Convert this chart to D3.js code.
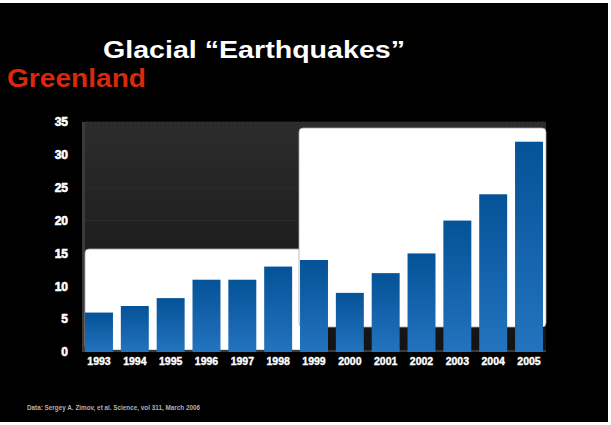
<!DOCTYPE html>
<html>
<head>
<meta charset="utf-8">
<script src="https://cdn.jsdelivr.net/npm/d3@7"></script>
<style>
  body { margin: 0; background: #fff; }
  svg { display: block; font-family: "Liberation Sans", Arial, sans-serif; }
</style>
</head>
<body>
<svg width="611" height="425"></svg>
<script>
const svg = d3.select('svg');

// data
const years = ['1993','1994','1995','1996','1997','1998','1999','2000','2001','2002','2003','2004','2005'];
const counts = [6, 7, 8.2, 11, 11, 13, 14, 9, 12, 15, 20, 24, 32];
const yTicks = [0, 5, 10, 15, 20, 25, 30, 35];

const plot = {left: 82, right: 546, top: 122, bottom: 352};

const x = d3.scaleBand().domain(years).range([85, 543]).paddingInner(0.22).paddingOuter(0);
const y = d3.scaleLinear().domain([0, 35]).range([plot.bottom, plot.top]);

// slide background
svg.append('rect').attr('x', 0).attr('y', 3).attr('width', 608).attr('height', 419).attr('fill', '#000');

const defs = svg.append('defs');
const bg = defs.append('linearGradient').attr('id', 'bg').attr('x1', 0).attr('y1', 0).attr('x2', 0).attr('y2', 1);
bg.append('stop').attr('offset', '0%').attr('stop-color', '#2c2c2c');
bg.append('stop').attr('offset', '100%').attr('stop-color', '#131313');
const barGrad = defs.append('linearGradient').attr('id', 'bar').attr('x1', 0).attr('y1', 0).attr('x2', 0).attr('y2', 1);
barGrad.append('stop').attr('offset', '0%').attr('stop-color', '#045297');
barGrad.append('stop').attr('offset', '100%').attr('stop-color', '#2373be');

// titles
svg.append('text').attr('x', 103).attr('y', 58)
  .attr('font-size', 24).attr('font-weight', 'bold').attr('fill', '#fff')
  .attr('textLength', 302).attr('lengthAdjust', 'spacingAndGlyphs')
  .text('Glacial \u201CEarthquakes\u201D');
svg.append('text').attr('x', 7).attr('y', 87)
  .attr('font-size', 25).attr('font-weight', 'bold').attr('fill', '#d8290c')
  .attr('textLength', 139).attr('lengthAdjust', 'spacingAndGlyphs')
  .text('Greenland');

// plot area
svg.append('rect').attr('x', plot.left).attr('y', plot.top)
  .attr('width', plot.right - plot.left).attr('height', plot.bottom - plot.top)
  .attr('fill', 'url(#bg)');
svg.append('rect').attr('x', plot.left).attr('y', plot.top)
  .attr('width', 3).attr('height', plot.bottom - plot.top).attr('fill', '#3a3a3a');

// faint gridlines
svg.append('g').selectAll('line').data(yTicks.filter(d => d > 0)).join('line')
  .attr('x1', plot.left + 3).attr('x2', plot.right)
  .attr('y1', d => y(d)).attr('y2', d => y(d))
  .attr('stroke', '#2f2f2f').attr('stroke-width', 1).attr('stroke-dasharray', '3,1');

// white step shape behind the bars
const white = svg.append('g').attr('fill', '#fff').attr('stroke', '#aaa').attr('stroke-width', 0.8);
white.append('rect').attr('x', 85).attr('y', 249).attr('width', 240).attr('height', 101).attr('rx', 4);
white.append('rect').attr('x', 299).attr('y', 128).attr('width', 247).attr('height', 199).attr('rx', 4);
svg.append('rect').attr('x', 300).attr('y', 249.5).attr('width', 24).attr('height', 77).attr('fill', '#fff');

// floor
svg.append('rect').attr('x', plot.left).attr('y', plot.bottom - 2)
  .attr('width', plot.right - plot.left).attr('height', 2).attr('fill', '#3a3a3a');

// bars
svg.append('g').selectAll('rect').data(years).join('rect')
  .attr('x', d => x(d))
  .attr('y', (d, i) => y(counts[i]))
  .attr('width', x.bandwidth())
  .attr('height', (d, i) => y(0) - y(counts[i]))
  .attr('fill', 'url(#bar)');

// y axis
const yAxis = svg.append('g').attr('transform', 'translate(68,0)')
  .call(d3.axisLeft(y).tickValues(yTicks).tickSize(0).tickPadding(0));
yAxis.select('.domain').remove();
yAxis.selectAll('text').attr('font-size', 12).attr('font-weight', 'bold')
  .attr('fill', '#fff').attr('stroke', '#fff').attr('stroke-width', 0.6)
  .attr('font-family', '"Liberation Sans", Arial, sans-serif');

// x axis
const xAxis = svg.append('g').attr('transform', 'translate(0,356)')
  .call(d3.axisBottom(x).tickSize(0).tickPadding(2));
xAxis.select('.domain').remove();
xAxis.selectAll('text').attr('font-size', 10.5).attr('font-weight', 'bold')
  .attr('fill', '#fff').attr('stroke', '#fff').attr('stroke-width', 0.4)
  .attr('font-family', '"Liberation Sans", Arial, sans-serif');

// source note
svg.append('text').attr('x', 27).attr('y', 410)
  .attr('font-size', 6.5).attr('font-weight', 'bold').attr('fill', '#b0b0b0')
  .attr('textLength', 173).attr('lengthAdjust', 'spacingAndGlyphs')
  .text('Data: Sergey A. Zimov, et al. Science, vol 311, March 2006');
</script>
</body>
</html>
